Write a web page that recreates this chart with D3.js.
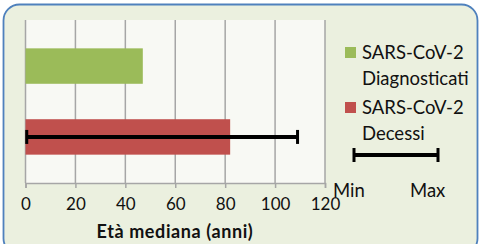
<!DOCTYPE html>
<html lang="it">
<head>
<meta charset="UTF-8">
<title>Età mediana</title>
<style>
  body { margin: 0; background: #fff; }
  svg text { font-family: Lato, "Open Sans", sans-serif; fill: #111; }
</style>
</head>
<body>
<div id="chart"></div>
<script src="https://cdn.jsdelivr.net/npm/d3@7"></script>
<script>
// dati
var categorie = ["Diagnosticati", "Decessi"];
var etaMediana = [47, 82];
var colori = ["#9bbb59", "#c0504d"];
var etaMin = [null, 0.5];
var etaMax = [null, 109];
var tickEta = [0, 20, 40, 60, 80, 100, 120];
var legenda = [["SARS-CoV-2", "Diagnosticati"], ["SARS-CoV-2", "Decessi"]];

var width = 481, height = 244;
var svg = d3.select("#chart").append("svg")
    .attr("width", width)
    .attr("height", height);

// cornice
svg.append("rect")
    .attr("x", 3.5).attr("y", 4.5)
    .attr("width", 474).attr("height", 250)
    .attr("rx", 16).attr("ry", 16)
    .style("fill", "#ebf0df")
    .style("stroke", "#4f81bd")
    .style("stroke-width", 1.8);

var x = d3.scaleLinear().domain([0, 120]).range([25.5, 325]);
var y = d3.scaleBand().domain(categorie).range([20, 183])
    .paddingInner(0.5).paddingOuter(0.4);

// area del grafico
svg.append("rect")
    .attr("x", x(0)).attr("y", 20)
    .attr("width", x(120) - x(0)).attr("height", 163)
    .style("fill", "#f8f9f4");

// griglia
svg.append("g").selectAll("line")
    .data(tickEta)
    .enter().append("line")
    .attr("x1", function(d) { return x(d); })
    .attr("x2", function(d) { return x(d); })
    .attr("y1", 20).attr("y2", 183)
    .style("stroke", "#a6a6a6")
    .style("stroke-width", 1.5);

// asse
var xAxis = d3.axisBottom(x).tickValues(tickEta).tickSize(5).tickPadding(10);
var gx = svg.append("g")
    .attr("transform", "translate(0,183)")
    .call(xAxis);
gx.select(".domain").style("stroke", "#a6a6a6").style("stroke-width", 1.5);
gx.selectAll(".tick line").style("stroke", "#a6a6a6").style("stroke-width", 1.5);
gx.selectAll(".tick text")
    .style("font-family", "Lato, sans-serif")
    .style("font-size", "17px")
    .style("fill", "#111");

svg.append("text")
    .attr("x", 175).attr("y", 238)
    .attr("text-anchor", "middle")
    .style("font-size", "18px")
    .style("font-weight", "bold")
    .style("letter-spacing", "0.6px")
    .text("Età mediana (anni)");

// barre
svg.append("g").selectAll("rect")
    .data(categorie)
    .enter().append("rect")
    .attr("x", x(0))
    .attr("y", function(d) { return y(d); })
    .attr("width", function(d, i) { return x(etaMediana[i]) - x(0); })
    .attr("height", y.bandwidth())
    .style("fill", function(d, i) { return colori[i]; });

// barre di errore
var gErr = svg.append("g");
categorie.forEach(function(c, i) {
    if (etaMin[i] === null) return;
    var cy = y(c) + y.bandwidth() / 2;
    gErr.append("line")
        .attr("x1", x(etaMin[i])).attr("x2", x(etaMax[i]))
        .attr("y1", cy).attr("y2", cy)
        .style("stroke", "#000").style("stroke-width", 4);
    [etaMin[i], etaMax[i]].forEach(function(v) {
        gErr.append("line")
            .attr("x1", x(v)).attr("x2", x(v))
            .attr("y1", cy - 7).attr("y2", cy + 7)
            .style("stroke", "#000").style("stroke-width", 3);
    });
});

// legenda
var gLeg = svg.append("g").attr("transform", "translate(345,0)");
legenda.forEach(function(righe, i) {
    var ty = 59 + i * 55;
    gLeg.append("rect")
        .attr("x", 0).attr("y", ty - 12)
        .attr("width", 11).attr("height", 11)
        .style("fill", colori[i]);
    righe.forEach(function(r, j) {
        gLeg.append("text")
            .attr("x", 17).attr("y", ty + j * 26)
            .style("font-size", "18.5px")
            .text(r);
    });
});
gLeg.append("line")
    .attr("x1", 9).attr("x2", 93).attr("y1", 155).attr("y2", 155)
    .style("stroke", "#000").style("stroke-width", 4);
[9, 93].forEach(function(v) {
    gLeg.append("line")
        .attr("x1", v).attr("x2", v).attr("y1", 148).attr("y2", 162)
        .style("stroke", "#000").style("stroke-width", 3);
});
gLeg.append("text").attr("x", -12).attr("y", 197).style("font-size", "18.5px").text("Min");
gLeg.append("text").attr("x", 65).attr("y", 197).style("font-size", "18.5px").text("Max");
</script>
</body>
</html>
